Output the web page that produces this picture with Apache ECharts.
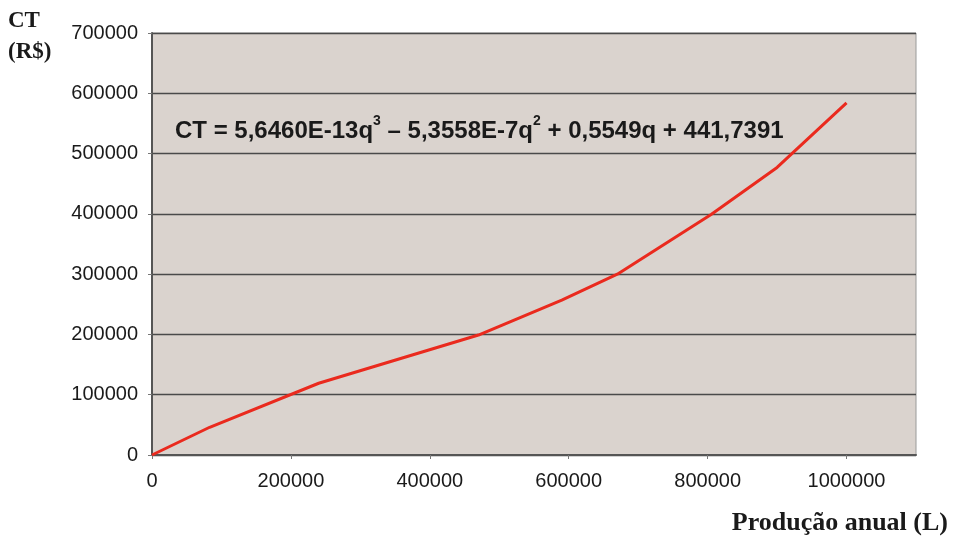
<!DOCTYPE html>
<html>
<head>
<meta charset="utf-8">
<script src="https://cdn.jsdelivr.net/npm/echarts@6/dist/echarts.min.js"></script>
<style>
html,body{margin:0;padding:0;background:#fff;}
#chart{width:954px;height:544px;}
</style>
</head>
<body>
<div id="chart"></div>
<script>
// Annual production (L) and total cost CT (R$)
var production = [0, 83000, 240000, 470000, 590000, 670000, 805000, 900000, 1000000];
var cost = [0, 46000, 119000, 199000, 257000, 300000, 399000, 477000, 584000];
var yAxisName = ['CT', '(R$)'];
var xAxisName = 'Produção anual (L)';
var equationParts = ['CT = 5,6460E-13q', '3', ' – 5,3558E-7q', '2', ' + 0,5549q + 441,7391'];

var points = production.map(function (q, i) { return [q, cost[i]]; });
var plain = function (v) { return String(v); };

var chart = echarts.init(document.getElementById('chart'));
chart.setOption({
  backgroundColor: '#ffffff',
  animation: false,
  grid: {
    left: 152, top: 33, right: 38, bottom: 89,
    show: true, backgroundColor: '#dad3ce', borderColor: '#9a9a9a', borderWidth: 1
  },
  xAxis: {
    type: 'value', min: 0, max: 1100000, interval: 200000,
    axisLine: { show: true, onZero: false, lineStyle: { color: '#555', width: 2 } },
    axisTick: { show: true, length: 4, lineStyle: { color: '#777' } },
    splitLine: { show: false },
    axisLabel: { showMaxLabel: false, formatter: plain, color: '#1a1a1a', fontFamily: 'Liberation Sans, Arial, sans-serif', fontSize: 20, margin: 16 }
  },
  yAxis: {
    type: 'value', min: 0, max: 700000, interval: 100000,
    axisLine: { show: true, lineStyle: { color: '#555', width: 2 } },
    axisTick: { show: true, length: 4, lineStyle: { color: '#777' } },
    splitLine: { show: true, lineStyle: { color: '#4a4a4a', width: 1.3 } },
    axisLabel: { formatter: plain, color: '#1a1a1a', fontFamily: 'Liberation Sans, Arial, sans-serif', fontSize: 20, margin: 14 }
  },
  series: [{
    type: 'line',
    data: points,
    showSymbol: false,
    smooth: false,
    lineStyle: { color: '#ea2a1e', width: 3 }
  }],
  graphic: [
    {
      type: 'text', left: 8, top: 6,
      style: {
        text: yAxisName.join('\n'),
        font: 'bold 23px "Liberation Serif", "Times New Roman", serif',
        fill: '#1a1a1a', lineHeight: 31
      }
    },
    {
      type: 'text', right: 6, top: 510,
      style: {
        text: xAxisName,
        font: 'bold 26px "Liberation Serif", "Times New Roman", serif',
        fill: '#1a1a1a'
      }
    },
    {
      type: 'text', left: 175, top: 114,
      style: {
        rich: {
          m: { fontFamily: 'Liberation Sans, Arial, sans-serif', fontWeight: 'bold', fontSize: 24, lineHeight: 29, fill: '#1a1a1a', verticalAlign: 'bottom' },
          s: { fontFamily: 'Liberation Sans, Arial, sans-serif', fontWeight: 'bold', fontSize: 14, lineHeight: 29, fill: '#1a1a1a', verticalAlign: 'top' }
        },
        text: '{m|' + equationParts[0] + '}{s|' + equationParts[1] + '}{m|' + equationParts[2] + '}{s|' + equationParts[3] + '}{m|' + equationParts[4] + '}'
      }
    }
  ]
});
</script>
</body>
</html>
